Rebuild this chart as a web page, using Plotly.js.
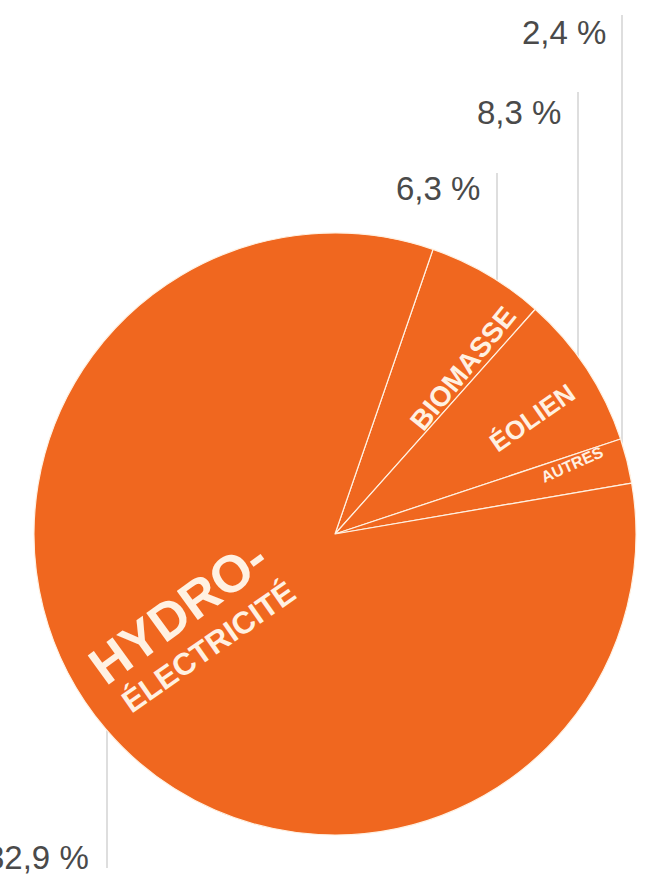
<!DOCTYPE html>
<html>
<head>
<meta charset="utf-8">
<script src="https://cdn.plot.ly/plotly-3.0.1.min.js"></script>
<style>html,body{margin:0;padding:0;background:#fff;}#chart{width:658px;height:876px;}</style>
</head>
<body>
<div id="chart"></div>
<script>
// ---- data ----
const categories = ["Biomasse", "Éolien", "Autres", "Hydroélectricité"];
const shares = [6.3, 8.3, 2.4, 82.9];
const sliceLabels = ["BIOMASSE", "ÉOLIEN", "AUTRES", "HYDRO-"];

// ---- layout helpers ----
const W = 658, H = 876;
const px = x => x / W;
const py = y => 1 - y / H;
const CX = 335, CY = 534, R = 301;
const orange = "#F0671F";
const cream = "#FFF1E2";
const grey = "#4A4A4A";
const fmt = v => v.toFixed(1).replace(".", ",") + " %";

// label placement (pixels) for percentage labels and leader lines
const pctPos = [
  {tx: 482, ty: 188, lx: 497, ltop: 173, side: -1},
  {tx: 563, ty: 112, lx: 578, ltop: 92, side: -1},
  {tx: 608, ty: 32, lx: 622, ltop: 15, side: -1},
  {tx: 91, ty: 857, lx: 107, ltop: 868, side: 1}
];
// slice text placement (pixels, angle)
const slicePos = [
  {x: 463, y: 368, a: -51, s: 28},
  {x: 532, y: 418, a: -35, s: 26},
  {x: 572, y: 464, a: -24, s: 16},
  {x: 178, y: 612, a: -36, s: 52}
];

const trace = {
  type: "pie",
  labels: categories,
  values: shares,
  sort: false,
  direction: "clockwise",
  rotation: 19,
  textinfo: "none",
  hoverinfo: "label+percent",
  marker: {colors: categories.map(() => orange), line: {color: cream, width: 1.2}},
  domain: {x: [px(CX - R), px(CX + R)], y: [py(CY + R), py(CY - R)]},
  showlegend: false
};

const shapes = [];
const annotations = [];
shares.forEach((v, i) => {
  const p = pctPos[i];
  const dx = p.lx - CX;
  const edge = CY + p.side * Math.sqrt(R * R - dx * dx);
  shapes.push({type: "line", xref: "paper", yref: "paper", layer: "below",
    x0: px(p.lx), x1: px(p.lx), y0: py(p.ltop), y1: py(edge),
    line: {color: "#D3D3D3", width: 1.5}});
  annotations.push({xref: "paper", yref: "paper", x: px(p.tx), y: py(p.ty),
    xanchor: "right", yanchor: "middle", showarrow: false, text: fmt(v),
    font: {family: "Liberation Sans, Arial, sans-serif", size: 33, color: grey}});
  const s = slicePos[i];
  annotations.push({xref: "paper", yref: "paper", x: px(s.x), y: py(s.y),
    xanchor: "center", yanchor: "middle", showarrow: false, textangle: s.a,
    text: sliceLabels[i],
    font: {family: "Liberation Sans, Arial, sans-serif", size: s.s, color: cream, weight: "bold"}});
});
annotations.push({xref: "paper", yref: "paper", x: px(208), y: py(647),
  xanchor: "center", yanchor: "middle", showarrow: false, textangle: -35,
  text: "ÉLECTRICITÉ",
  font: {family: "Liberation Sans, Arial, sans-serif", size: 31, color: cream, weight: "bold"}});

const layout = {
  width: W, height: H,
  margin: {l: 0, r: 0, t: 0, b: 0},
  paper_bgcolor: "#fff",
  shapes: shapes,
  annotations: annotations
};

Plotly.newPlot("chart", [trace], layout, {displayModeBar: false, staticPlot: true});
</script>
</body>
</html>
